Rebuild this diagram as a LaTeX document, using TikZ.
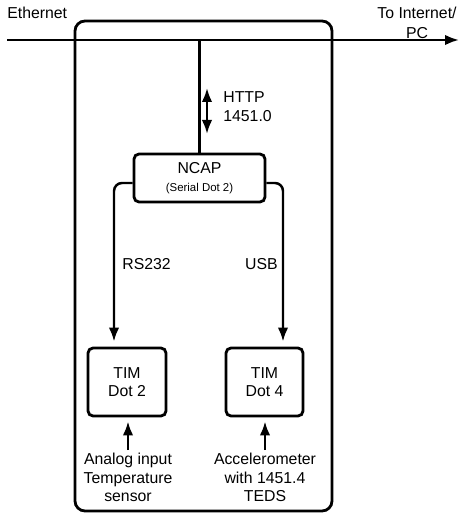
\documentclass[tikz,border=0pt]{standalone}
\usepackage{fontspec}
\setmainfont{Liberation Sans}
\usetikzlibrary{arrows.meta,positioning}

\begin{document}
\begin{tikzpicture}[x=0.02cm, y=-0.02cm, >={Latex[length=2.8mm,width=2.1mm]},
    box/.style={draw, line width=1.6pt, rounded corners=0.1cm, align=center, inner sep=0pt, font=\fontsize{9}{10.5}\selectfont},
    lbl/.style={align=center, inner sep=0pt, font=\fontsize{9}{10.5}\selectfont},
    wire/.style={line width=1.4pt}]
    \useasboundingbox (0,0) rectangle (461,516);
    % enclosure and ethernet bus
    \draw[line width=1.6pt, rounded corners=0.2cm] (75,21) rectangle (332,511);
    \coordinate (ethL) at (7,40);
    \coordinate (ethR) at (459,40);
    \coordinate (tap) at (199.5,40);
    \draw[wire, ->] (ethL) -- (ethR);
    \node[lbl, anchor=west] (eth) at (7,13) {Ethernet};
    \node[lbl] (inet) at (417,23) {To Internet/\\[1pt]PC};
    % NCAP
    \node[box, minimum width=2.62cm, minimum height=0.96cm] (ncap) at (199.5,178) {NCAP\\[0pt]{\fontsize{6.5}{8}\selectfont (Serial Dot 2)}};
    \draw[wire] (tap) -- (ncap.north);
    \coordinate (httpA) at (207,88);
    \coordinate (httpB) at (207,134);
    \draw[wire, <->] (httpA) -- (httpB);
    \node[lbl, anchor=west, align=left] (http) at (223,106.5) {HTTP\\1451.0};
    % TIMs
    \node[box, minimum width=1.56cm, minimum height=1.36cm] (tim2) at (127,382) {TIM\\Dot 2};
    \node[box, minimum width=1.54cm, minimum height=1.36cm] (tim4) at (264.5,382) {TIM\\Dot 4};
    \draw[wire, ->, rounded corners=0.16cm] ([yshift=-0.1cm]ncap.west) -| ([xshift=-0.26cm, yshift=0.1cm]tim2.north);
    \draw[wire, ->, rounded corners=0.16cm] ([yshift=-0.1cm]ncap.east) -| ([xshift=0.37cm, yshift=0.1cm]tim4.north);
    \node[lbl, anchor=west] (rs) at (122,264) {RS232};
    \node[lbl, anchor=east] (usb) at (278,264) {USB};
    % sensors
    \node[lbl, anchor=north] (sens2) at (128,453) {Analog input\\Temperature\\sensor};
    \node[lbl, anchor=north] (sens4) at (265,453) {Accelerometer\\with 1451.4\\TEDS};
    \draw[wire, ->] ([yshift=0.06cm]sens2.north) -- ([yshift=-0.08cm]sens2.north |- tim2.south);
    \draw[wire, ->] ([yshift=0.06cm]sens4.north) -- ([yshift=-0.08cm]sens4.north |- tim4.south);
\end{tikzpicture}
\end{document}
